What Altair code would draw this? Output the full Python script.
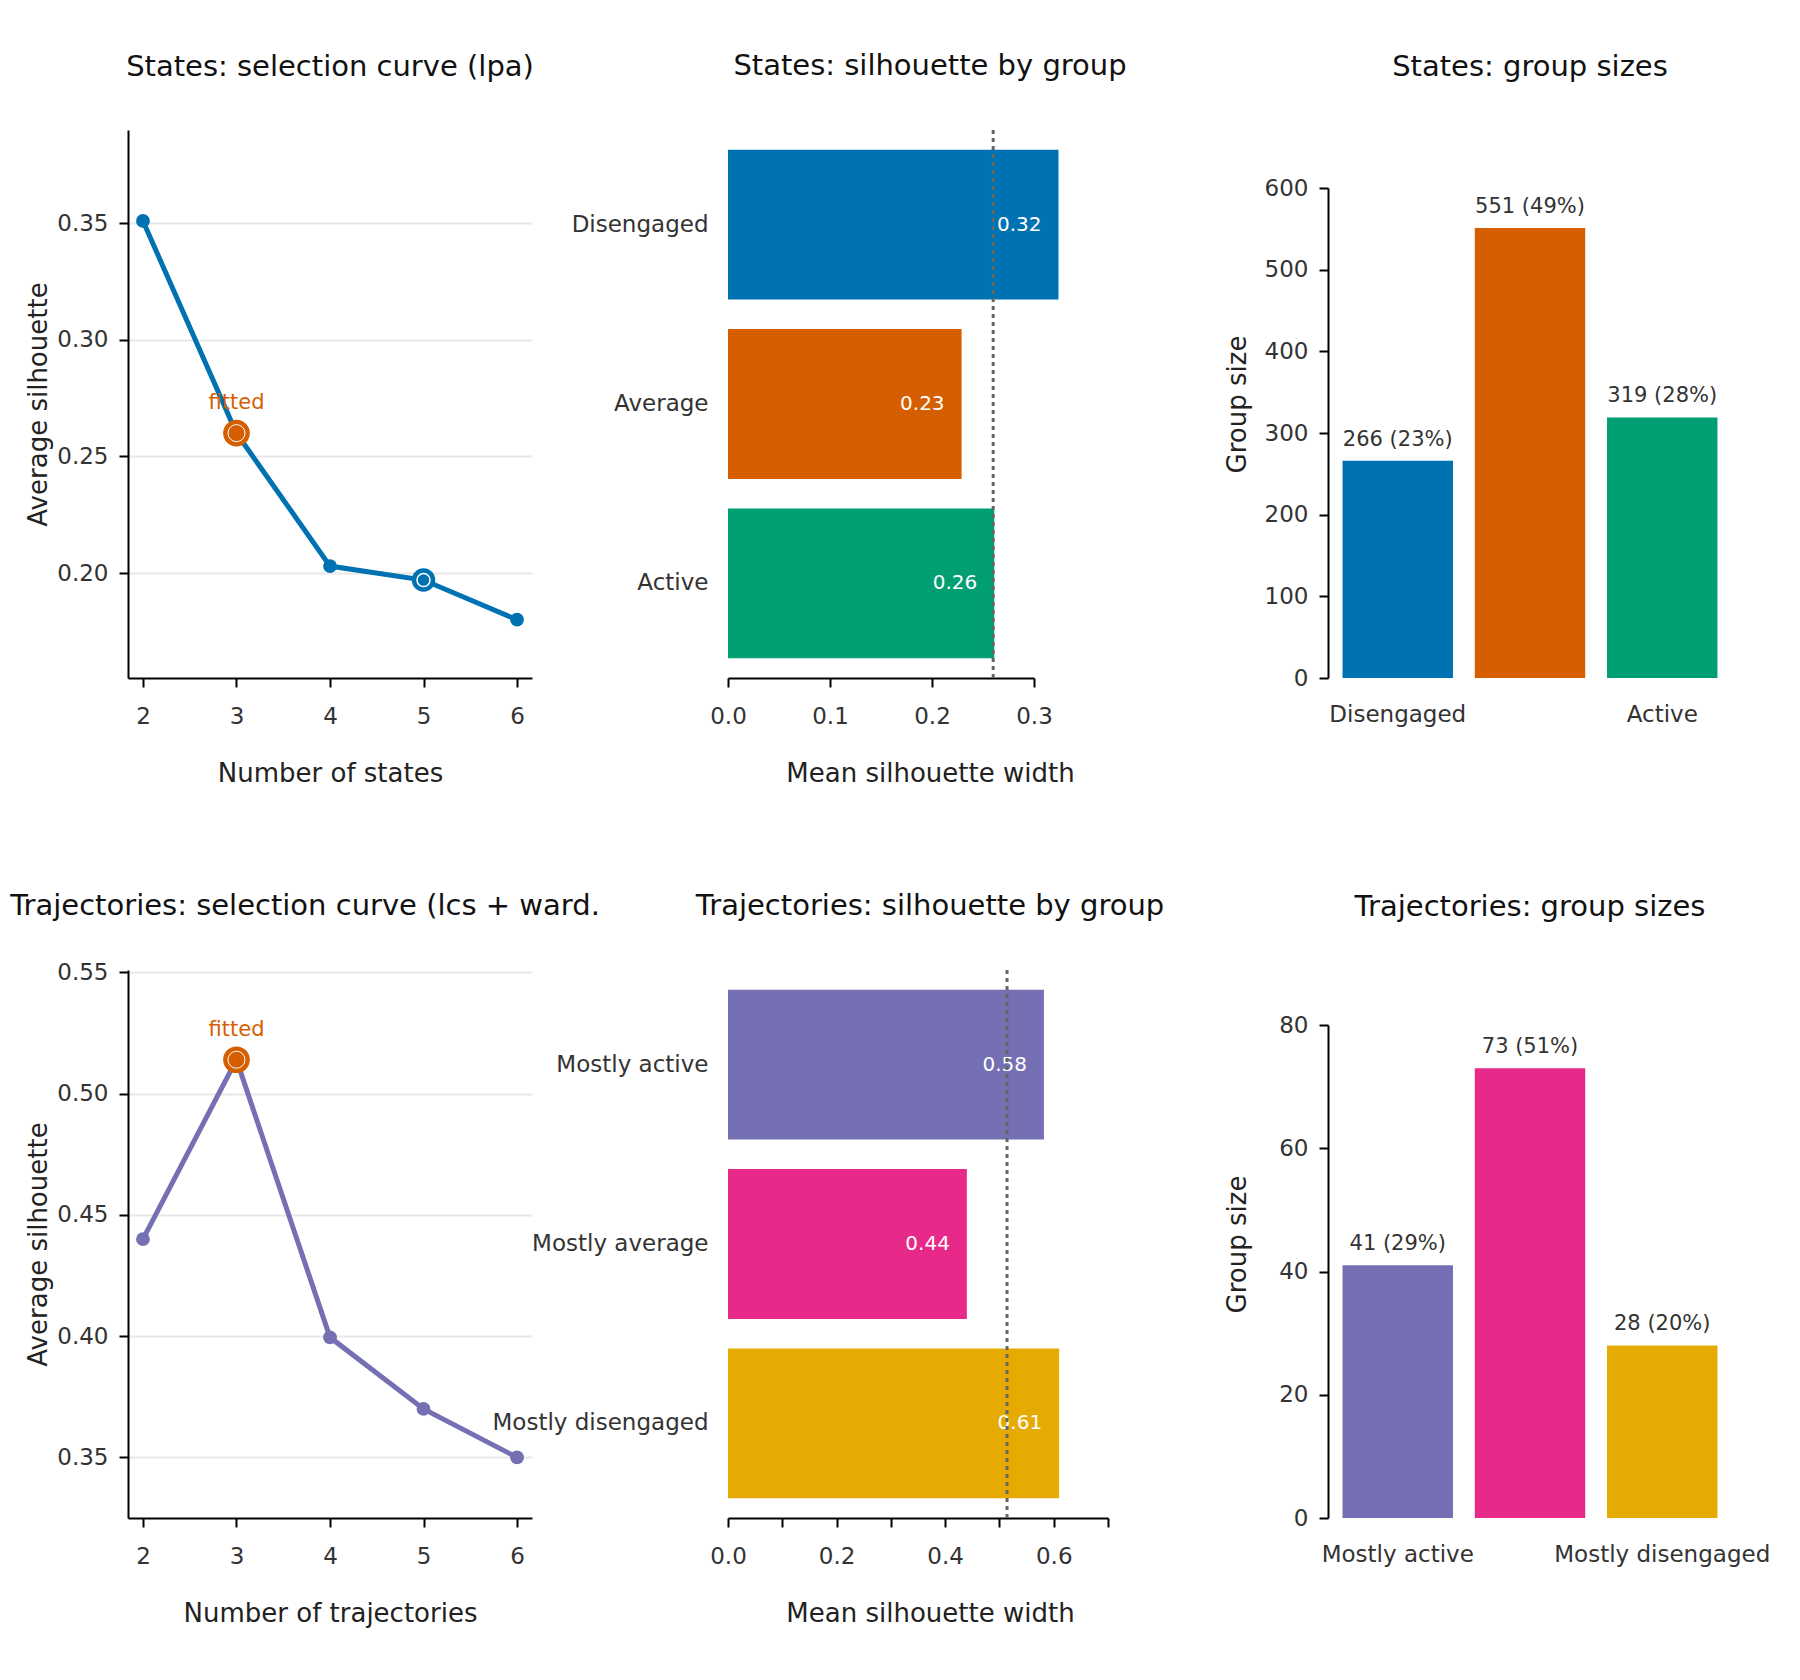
import altair as alt
import pandas as pd

# ---- data -------------------------------------------------------------
K_VALUES = [2, 3, 4, 5, 6]

STATE_SIL = [0.351, 0.260, 0.203, 0.197, 0.180]
STATE_FITTED_K = 3
STATE_BEST_K = 5
STATE_Y_DOMAIN = [0.155, 0.390]
STATE_Y_TICKS = [0.20, 0.25, 0.30, 0.35]

TRAJ_SIL = [0.440, 0.514, 0.3995, 0.370, 0.350]
TRAJ_FITTED_K = 3
TRAJ_BEST_K = 3
TRAJ_Y_DOMAIN = [0.325, 0.551]
TRAJ_Y_TICKS = [0.35, 0.40, 0.45, 0.50, 0.55]

STATE_GROUPS = ['Disengaged', 'Average', 'Active']
STATE_COLORS = ['#0072B2', '#D55E00', '#009E73']
STATE_GROUP_SIL = [0.324, 0.229, 0.261]
STATE_OVERALL_SIL = 0.260
STATE_SIL_TICKS = [0.0, 0.1, 0.2, 0.3]
STATE_SIZES = [266, 551, 319]
STATE_SIZE_TICKS = [0, 100, 200, 300, 400, 500, 600]

TRAJ_GROUPS = ['Mostly active', 'Mostly average', 'Mostly disengaged']
TRAJ_COLORS = ['#7570B3', '#E7298A', '#E6AB02']
TRAJ_GROUP_SIL = [0.582, 0.440, 0.610]
TRAJ_OVERALL_SIL = 0.514
TRAJ_SIL_TICKS = [0.0, 0.1, 0.2, 0.3, 0.4, 0.5, 0.6, 0.7]
TRAJ_SIZES = [41, 73, 28]
TRAJ_SIZE_TICKS = [0, 20, 40, 60, 80]

FITTED_COLOR = '#D55E00'
PANEL_W = 404
PANEL_H = 548


def _title(text, offset=25, dx=0):
    return alt.TitleParams(text=text, offset=offset, dx=dx, baseline='alphabetic',
                           anchor='middle', frame='group')


def selection_panel(sil, fitted_k, best_k, color, title, x_title, y_domain, y_ticks,
                    title_offset=25, title_dx=0):
    frame = pd.DataFrame({'k': K_VALUES, 'sil': sil})
    x = alt.X('k:Q', scale=alt.Scale(domain=[1.84, 6.16], nice=False, zero=False),
              axis=alt.Axis(values=K_VALUES, format='d', grid=False, title=x_title,
                            titleY=82, titleBaseline='top', labelPadding=18))
    y = alt.Y('sil:Q', scale=alt.Scale(domain=y_domain, nice=False, zero=False),
              axis=alt.Axis(values=y_ticks, format='.2f', grid=True, title='Average silhouette',
                            titleX=-90, titleY=PANEL_H / 2, titleBaseline='middle', labelPadding=11))
    base = alt.Chart(frame).encode(x=x, y=y)
    best = base.transform_filter(alt.datum.k == best_k)
    fitted = base.transform_filter(alt.datum.k == fitted_k)

    layers = [
        base.mark_line(color=color, strokeWidth=5),
        base.mark_circle(color=color, size=190, opacity=1),
        best.mark_circle(color=color, size=550, opacity=1),
        best.mark_circle(fill=color, stroke='white', strokeWidth=1.5, size=170, opacity=1),
        fitted.mark_circle(color=FITTED_COLOR, size=710, opacity=1),
        fitted.mark_circle(fill=FITTED_COLOR, stroke='white', strokeWidth=1, size=290, opacity=1),
        fitted.mark_text(text='fitted', dy=-24, baseline='alphabetic', color=FITTED_COLOR, fontSize=21),
    ]
    return alt.layer(*layers).properties(width=PANEL_W, height=PANEL_H,
                                         title=_title(title, title_offset, title_dx))


def silhouette_panel(groups, values, colors, overall, ticks, title, range_px):
    frame = pd.DataFrame({
        'group': groups,
        'width': values,
        'label': [f'{v:.2f}' for v in values],
    })
    y = alt.Y('group:N', sort=groups,
              scale=alt.Scale(paddingInner=0.165, paddingOuter=0.11),
              axis=alt.Axis(title=None, domain=False, ticks=False, tickSize=0, labelPadding=20))
    x = alt.X('width:Q',
              scale=alt.Scale(domain=[ticks[0], ticks[-1]], range=[0, range_px], nice=False),
              axis=alt.Axis(values=ticks, format='.1f', grid=False, title='Mean silhouette width',
                            titleX=PANEL_W / 2, titleY=82, titleBaseline='top', labelPadding=18))
    bars = alt.Chart(frame).mark_bar().encode(
        x=x, y=y,
        color=alt.Color('group:N', scale=alt.Scale(domain=groups, range=colors), legend=None),
    )
    labels = alt.Chart(frame).mark_text(align='right', baseline='middle', dx=-17,
                                        color='white', fontSize=20).encode(x=x, y=y, text='label:N')
    rule = alt.Chart(pd.DataFrame({'width': [overall]})).mark_rule(
        color='#666666', strokeDash=[4, 4], strokeWidth=3).encode(x=x)
    return alt.layer(bars, labels, rule).properties(width=PANEL_W, height=PANEL_H, title=_title(title))


def size_panel(groups, sizes, colors, ticks, title, range_top):
    total = sum(sizes)
    frame = pd.DataFrame({
        'group': groups,
        'size': sizes,
        'label': [f'{n} ({100 * n / total:.0f}%)' for n in sizes],
    })
    x = alt.X('group:N', sort=groups,
              scale=alt.Scale(paddingInner=0.165, paddingOuter=0.11),
              axis=alt.Axis(title=None, domain=False, ticks=False, tickSize=0, labelAngle=0,
                            labelPadding=25.5))
    y = alt.Y('size:Q',
              scale=alt.Scale(domain=[ticks[0], ticks[-1]], range=[PANEL_H, range_top], nice=False),
              axis=alt.Axis(values=ticks, format='d', grid=False, title='Group size',
                            titleX=-91, titleY=PANEL_H / 2, titleBaseline='middle', labelPadding=11))
    bars = alt.Chart(frame).mark_bar().encode(
        x=x, y=y,
        color=alt.Color('group:N', scale=alt.Scale(domain=groups, range=colors), legend=None),
    )
    labels = alt.Chart(frame).mark_text(baseline='alphabetic', dy=-15, color='#333333',
                                        fontSize=21).encode(x=x, y=y, text='label:N')
    return alt.layer(bars, labels).properties(width=PANEL_W, height=PANEL_H, title=_title(title))


panels = [
    selection_panel(STATE_SIL, STATE_FITTED_K, STATE_BEST_K, '#0072B2',
                    'States: selection curve (lpa)', 'Number of states',
                    STATE_Y_DOMAIN, STATE_Y_TICKS),
    silhouette_panel(STATE_GROUPS, STATE_GROUP_SIL, STATE_COLORS, STATE_OVERALL_SIL,
                     STATE_SIL_TICKS, 'States: silhouette by group', 306),
    size_panel(STATE_GROUPS, STATE_SIZES, STATE_COLORS, STATE_SIZE_TICKS,
               'States: group sizes', 58),
    selection_panel(TRAJ_SIL, TRAJ_FITTED_K, TRAJ_BEST_K, '#7570B3',
                    'Trajectories: selection curve (lcs + ward.', 'Number of trajectories',
                    TRAJ_Y_DOMAIN, TRAJ_Y_TICKS, title_offset=17, title_dx=-25),
    silhouette_panel(TRAJ_GROUPS, TRAJ_GROUP_SIL, TRAJ_COLORS, TRAJ_OVERALL_SIL,
                     TRAJ_SIL_TICKS, 'Trajectories: silhouette by group', 380),
    size_panel(TRAJ_GROUPS, TRAJ_SIZES, TRAJ_COLORS, TRAJ_SIZE_TICKS,
               'Trajectories: group sizes', 55),
]

chart = alt.concat(
    *panels, columns=3, bounds='flush',
    spacing=alt.RowColnumber(row=292, column=196),
).resolve_scale(
    color='independent',
).properties(
    padding={'left': 2, 'top': 43, 'right': 0, 'bottom': 10},
).configure(
    font='DejaVu Sans',
).configure_view(
    stroke=None,
).configure_axis(
    domainColor='#000000',
    domainWidth=2,
    tickColor='#000000',
    tickWidth=2,
    tickSize=9,
    labelFontSize=23,
    labelColor='#333333',
    labelLimit=0,
    labelFlush=False,
    titleFontSize=26,
    titleFontWeight='normal',
    titleColor='#222222',
    gridColor='#e8e8e8',
    gridWidth=2,
    labelOverlap='parity',
    labelSeparation=20,
).configure_title(
    fontSize=29,
    fontWeight='normal',
    color='#111111',
)

chart.save('out.html', embed_options={'renderer': 'svg', 'actions': False})
